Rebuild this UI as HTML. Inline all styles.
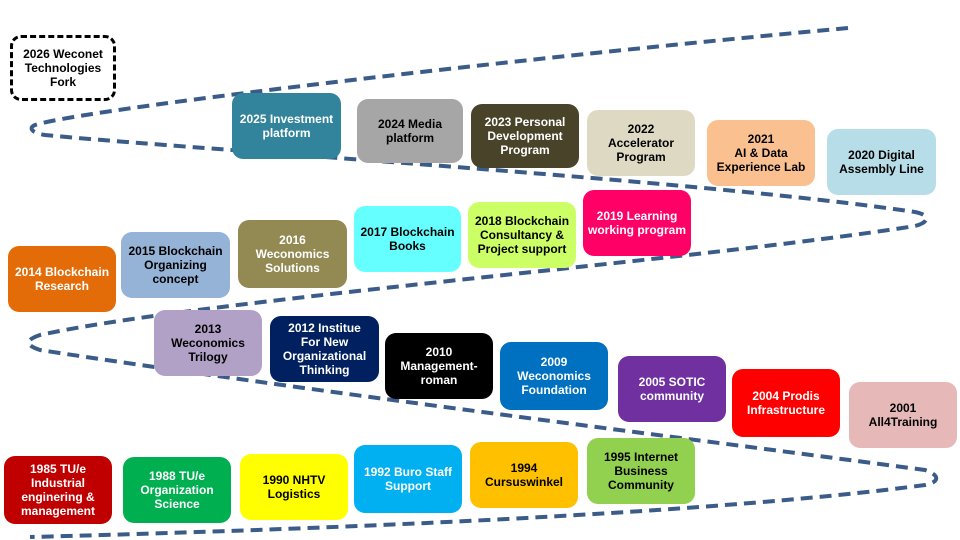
<!DOCTYPE html>
<html><head><meta charset="utf-8"><style>
body{margin:0;width:960px;height:540px;background:#fff;position:relative;overflow:hidden;font-family:"Liberation Sans",Arial,sans-serif}
.b{position:absolute;border-radius:11px;display:flex;align-items:center;justify-content:center;text-align:center;font-weight:bold;font-size:12px;line-height:14px;color:#fff;box-sizing:border-box;padding:2px;white-space:nowrap}
.k{color:#000}
svg{position:absolute;left:0;top:0}
</style></head><body>
<svg width="960" height="540"><path d="M848,28 C500,60 80,110 35,125 C28,128 32,133 45,135 C200,150 700,180 915,212 C930,215 930,222 915,226 C700,260 200,300 40,335 C25,340 25,345 40,350 C300,390 700,440 925,470 C940,475 940,482 925,485 C700,515 300,530 30,537" fill="none" stroke="#3b5b88" stroke-width="4" stroke-dasharray="12 7"/></svg>
<div class="b k" style="left:10px;top:35px;width:106px;height:66px;border:3px dashed #000;background:#fff">2026 Weconet<br>Technologies<br>Fork</div>
<div class="b" style="left:232px;top:93px;width:109px;height:66px;background:#31849b">2025 Investment<br>platform</div>
<div class="b k" style="left:357px;top:99px;width:106px;height:64px;background:#a6a6a6">2024 Media<br>platform</div>
<div class="b" style="left:471px;top:104px;width:108px;height:64px;background:#494429">2023 Personal<br>Development<br>Program</div>
<div class="b k" style="left:587px;top:110px;width:108px;height:66px;background:#ddd9c3">2022<br>Accelerator<br>Program</div>
<div class="b k" style="left:707px;top:120px;width:108px;height:66px;background:#fac090">2021<br>AI &amp; Data<br>Experience Lab</div>
<div class="b k" style="left:827px;top:129px;width:109px;height:66px;background:#b7dde8">2020 Digital<br>Assembly Line</div>
<div class="b" style="left:8px;top:246px;width:108px;height:66px;background:#e36c09">2014 Blockchain<br>Research</div>
<div class="b k" style="left:121px;top:232px;width:109px;height:66px;background:#95b3d7">2015 Blockchain<br>Organizing<br>concept</div>
<div class="b" style="left:238px;top:220px;width:109px;height:68px;background:#938953">2016<br>Weconomics<br>Solutions</div>
<div class="b k" style="left:354px;top:206px;width:107px;height:66px;background:#66ffff">2017 Blockchain<br>Books</div>
<div class="b k" style="left:468px;top:202px;width:108px;height:66px;background:#ccff66">2018 Blockchain<br>Consultancy &amp;<br>Project support</div>
<div class="b" style="left:583px;top:190px;width:108px;height:66px;background:#ff0066">2019 Learning<br>working program</div>
<div class="b k" style="left:154px;top:310px;width:108px;height:66px;background:#b2a1c7">2013<br>Weconomics<br>Trilogy</div>
<div class="b" style="left:270px;top:316px;width:109px;height:66px;background:#002060">2012 Institue<br>For New<br>Organizational<br>Thinking</div>
<div class="b" style="left:385px;top:333px;width:108px;height:66px;background:#000">2010<br>Management-<br>roman</div>
<div class="b" style="left:500px;top:342px;width:108px;height:68px;background:#0070c0">2009<br>Weconomics<br>Foundation</div>
<div class="b" style="left:618px;top:356px;width:108px;height:66px;background:#7030a0">2005 SOTIC<br>community</div>
<div class="b" style="left:732px;top:369px;width:108px;height:68px;background:#ff0000">2004 Prodis<br>Infrastructure</div>
<div class="b k" style="left:849px;top:382px;width:108px;height:66px;background:#e6b9b8">2001<br>All4Training</div>
<div class="b" style="left:4px;top:456px;width:108px;height:68px;background:#c00000">1985 TU/e<br>Industrial<br>enginering &amp;<br>management</div>
<div class="b" style="left:123px;top:457px;width:108px;height:66px;background:#00b050">1988 TU/e<br>Organization<br>Science</div>
<div class="b k" style="left:240px;top:454px;width:108px;height:66px;background:#ffff00">1990 NHTV<br>Logistics</div>
<div class="b" style="left:354px;top:445px;width:108px;height:68px;background:#00b0f0">1992 Buro Staff<br>Support</div>
<div class="b k" style="left:470px;top:442px;width:108px;height:66px;background:#ffc000">1994<br>Cursuswinkel</div>
<div class="b k" style="left:587px;top:438px;width:108px;height:66px;background:#92d050">1995 Internet<br>Business<br>Community</div>
</body></html>
